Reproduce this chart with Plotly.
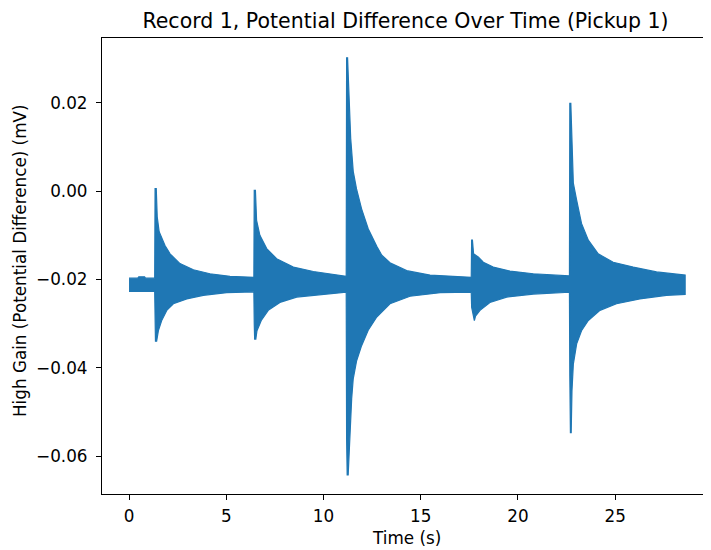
import plotly.graph_objects as go

upper_t = [0.00, 0.45, 0.50, 0.80, 0.85, 1.32,
           1.34, 1.40, 1.45, 1.55, 1.85, 2.11, 2.62, 3.31, 4.16, 5.19, 6.42,
           6.44, 6.50, 6.56, 6.73, 7.08, 7.59, 8.45, 9.48, 10.33, 11.17,
           11.19, 11.24, 11.28, 11.40, 11.53, 11.70, 11.96, 12.30, 12.74, 13.00, 13.42, 14.28, 15.48, 16.60, 17.60,
           17.62, 17.66, 17.72, 17.96, 18.22, 18.73, 19.59, 20.79, 22.65,
           22.67, 22.72, 22.76, 22.85, 23.02, 23.27, 23.62, 24.13, 24.90, 25.93, 27.13, 27.99, 28.60]
upper_v = [-0.0197, -0.0197, -0.0194, -0.0194, -0.0197, -0.0197,
           0.0006, 0.0006, -0.0058, -0.0092, -0.0123, -0.0142, -0.0164, -0.0178, -0.0187, -0.0193, -0.0195,
           0.0002, 0.0002, -0.0066, -0.0100, -0.0130, -0.0153, -0.0172, -0.0182, -0.0187, -0.0193,
           0.0302, 0.0302, 0.0256, 0.0120, 0.0045, 0.0005, -0.0040, -0.0085, -0.0125, -0.0145, -0.0162, -0.0180, -0.0190, -0.0193, -0.0195,
           -0.0111, -0.0111, -0.0142, -0.0149, -0.0161, -0.0172, -0.0181, -0.0187, -0.0192,
           0.0199, 0.0199, 0.0154, 0.0018, -0.0020, -0.0073, -0.0111, -0.0142, -0.0161, -0.0172, -0.0183, -0.0187, -0.0190]

lower_t = [0.00, 1.32,
           1.34, 1.36, 1.42, 1.51, 1.68, 1.94, 2.28, 2.97, 3.82, 5.02, 6.42,
           6.44, 6.46, 6.52, 6.58, 6.80, 7.16, 7.76, 8.62, 9.82, 11.17,
           11.19, 11.22, 11.27, 11.33, 11.45, 11.53, 11.70, 11.96, 12.30, 12.74, 13.42, 14.45, 16.00, 17.60,
           17.62, 17.76, 17.82, 18.05, 18.56, 19.42, 20.79, 22.65,
           22.67, 22.70, 22.74, 22.78, 22.85, 23.02, 23.27, 23.62, 24.22, 25.07, 26.27, 27.64, 28.60]
lower_v = [-0.0227, -0.0227,
           -0.0300, -0.0340, -0.0340, -0.0316, -0.0293, -0.0270, -0.0255, -0.0244, -0.0236, -0.0230, -0.0228,
           -0.0300, -0.0335, -0.0335, -0.0316, -0.0293, -0.0270, -0.0252, -0.0240, -0.0234, -0.0229,
           -0.0560, -0.0643, -0.0643, -0.0570, -0.0470, -0.0425, -0.0385, -0.0350, -0.0315, -0.0285, -0.0255, -0.0238, -0.0230, -0.0229,
           -0.0263, -0.0293, -0.0283, -0.0270, -0.0252, -0.0240, -0.0233, -0.0229,
           -0.0420, -0.0547, -0.0547, -0.0452, -0.0392, -0.0346, -0.0316, -0.0293, -0.0270, -0.0255, -0.0244, -0.0236, -0.0234]

x_ticks = [0, 5, 10, 15, 20, 25]
y_ticks = [0.02, 0.00, -0.02, -0.04, -0.06]
y_tick_text = ["0.02", "0.00", "\u22120.02", "\u22120.04", "\u22120.06"]

title_text = "Record 1, Potential Difference Over Time (Pickup 1)"
x_label = "Time (s)"
y_label = "High Gain (Potential Difference) (mV)"

color = "#1f77b4"
font_family = "DejaVu Sans"

# figure geometry (page has an 8px body margin)
W, H = 703, 542
ML, MT, MB, MR = 94, 30, 56, 0
plot_h = H - MT - MB
plot_w = W - ML - MR

poly_x = upper_t + lower_t[::-1]
poly_y = upper_v + lower_v[::-1]

fig = go.Figure()
fig.add_trace(go.Scatter(
    x=poly_x, y=poly_y, mode="lines", fill="toself",
    fillcolor=color, line=dict(color=color, width=1.2),
    hoverinfo="skip", showlegend=False,
))

fig.update_layout(
    width=W, height=H,
    margin=dict(l=ML, r=MR, t=MT, b=MB, autoexpand=False),
    paper_bgcolor="white", plot_bgcolor="white",
    font=dict(family=font_family, color="black", size=16.8),
    title=dict(text=title_text, font=dict(size=20.5, color="black"),
               x=397.5 / W, xref="container", xanchor="center",
               y=1 - 12.5 / H, yref="container", yanchor="middle"),
    showlegend=False,
    annotations=[
        dict(text=x_label, xref="paper", yref="paper", x=0.5, y=-(530 - (H - MB)) / plot_h,
             xanchor="center", yanchor="middle", showarrow=False, font=dict(size=16.8)),
        dict(text=y_label, xref="paper", yref="paper", x=(12 - ML) / plot_w, y=((H - MB) - 253) / plot_h,
             xanchor="center", yanchor="middle", textangle=-90, showarrow=False, font=dict(size=16.8)),
    ],
)
fig.update_xaxes(
    range=[-1.39, 29.93], tickvals=x_ticks, ticktext=[str(v) for v in x_ticks],
    showgrid=False, zeroline=False,
    showline=True, linecolor="black", linewidth=1.2, mirror=True,
    ticks="outside", ticklen=5, tickwidth=1.2, tickcolor="black",
    ticklabelstandoff=2,
    automargin=False,
)
fig.update_yaxes(
    range=[-0.0686, 0.0347], tickvals=y_ticks, ticktext=y_tick_text,
    showgrid=False, zeroline=False,
    showline=True, linecolor="black", linewidth=1.2, mirror=False,
    ticks="outside", ticklen=5, tickwidth=1.2, tickcolor="black",
    ticklabelstandoff=5,
    automargin=False,
)

fig.write_html("out.html")
